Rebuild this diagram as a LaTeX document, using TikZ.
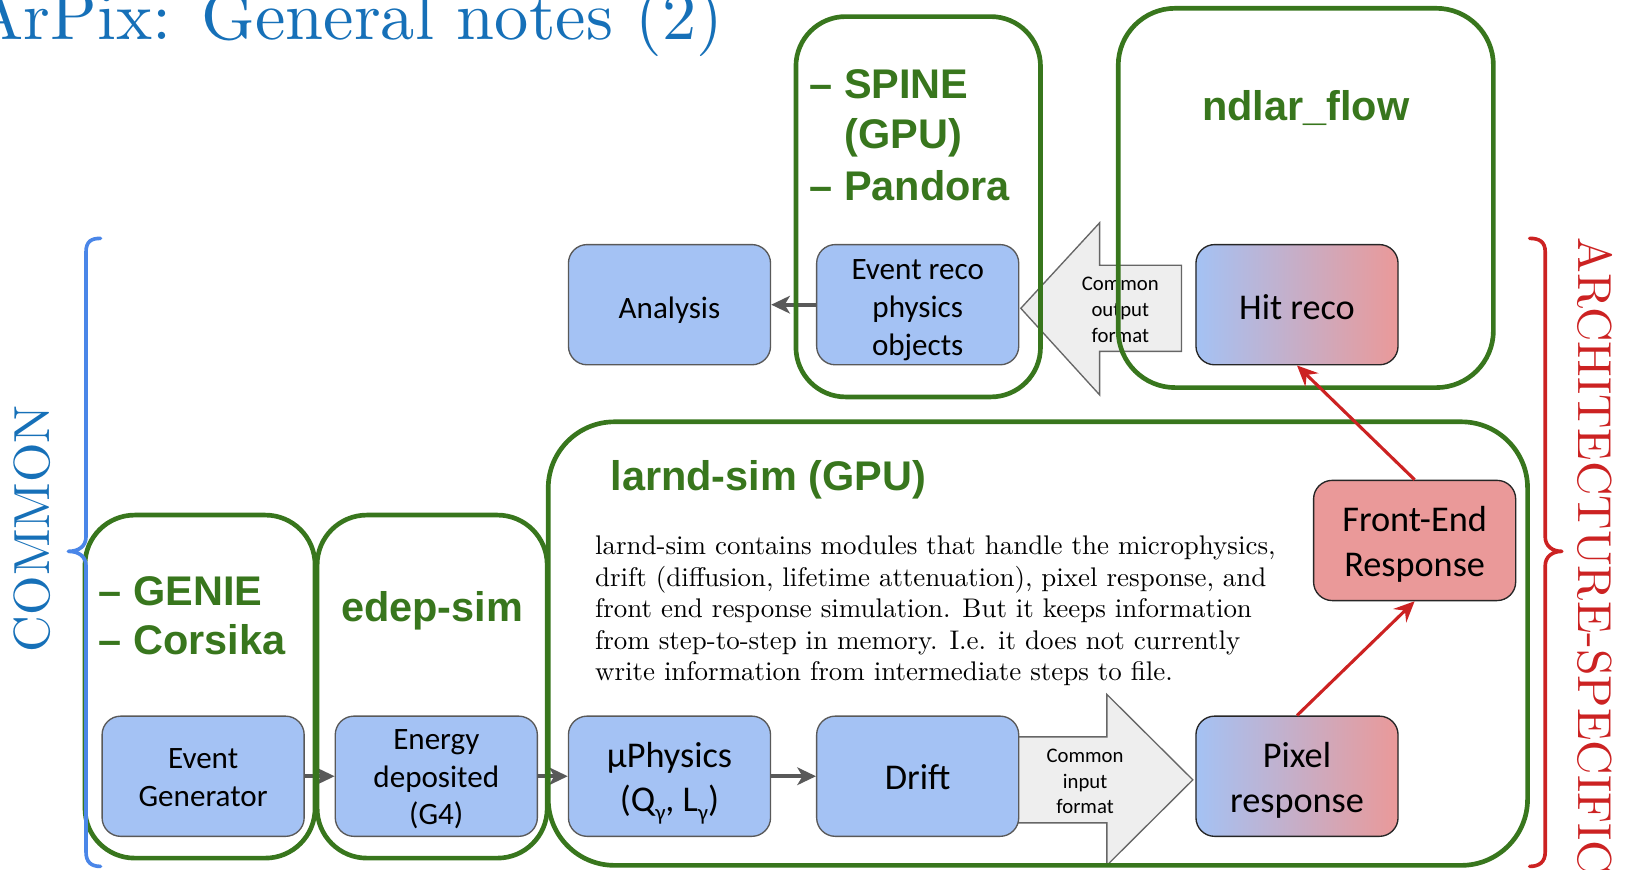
\documentclass[tikz,border=0pt]{standalone}
\usepackage{fontspec}
\newfontfamily\calib{Carlito}
\newfontfamily\arial{Liberation Sans}
\newfontfamily\pal{lmroman10-regular.otf}
\usetikzlibrary{arrows.meta}
\definecolor{gr}{HTML}{38761D}
\definecolor{bb}{HTML}{A4C2F4}
\definecolor{rb}{HTML}{EA9999}
\definecolor{bstroke}{HTML}{595959}
\definecolor{ttl}{RGB}{22,112,184}
\definecolor{brblue}{HTML}{4A86E8}
\definecolor{rd}{RGB}{204,34,34}
\definecolor{ag}{HTML}{EEEEEE}
\definecolor{agd}{HTML}{666666}
\newcommand\fsz[2]{\fontsize{#1}{#2}\selectfont}
\tikzset{
  blk/.style={draw=bstroke, line width=1.3pt, fill=bb, rounded corners=18pt,
    minimum width=195pt, minimum height=116pt, inner sep=0pt},
  btxt/.style={inner sep=0pt, align=center, text=black},
  smf/.style={btxt, font=\calib\fsz{30}{36.5}},
  lgf/.style={btxt, font=\calib\fsz{35}{43.5}},
  gradbox/.style={draw=black!85, left color=bb, right color=rb},
  redbox/.style={draw=black!85, fill=rb},
  grp/.style={draw=gr, line width=4.5pt, rounded corners=#1, inner sep=0pt},
  gtitle/.style={text=gr, font=\arial\bfseries\fsz{40}{48}, inner sep=0pt},
  garrow/.style={draw=bstroke, line width=3.5pt, -{Stealth[length=18pt,width=17pt,inset=5pt]}},
  rarrow/.style={draw=rd, line width=3pt, -{Stealth[length=20pt,width=18pt,inset=7pt]}},
  bigarrow/.style={draw=agd, fill=ag, line width=1.3pt, line join=miter},
  note/.style={font=\calib\fsz{20}{25}, align=center, inner sep=0pt},
  para/.style={font=\pal\fsz{26}{31}, inner sep=0pt, anchor=base west},
  brace/.style={line width=3.5pt, line cap=round, line join=round}
}
\begin{document}
\begin{tikzpicture}[x=1pt,y=-1pt]
\useasboundingbox (0,0) rectangle (1568,839);

% big block arrows
\draw[bigarrow] (975,711) -- (1068,711) -- (1068,670) -- (1151,752.5) -- (1068,835) -- (1068,794) -- (975,794) -- cycle;
\draw[bigarrow] (985,297.5) -- (1061,215) -- (1061,256) -- (1140,256) -- (1140,339) -- (1061,339) -- (1061,381) -- cycle;

% boxes
\node[blk] (ana) at (646,294) {};
\node[blk] (ereco) at (885.5,294) {};
\node[blk, gradbox] (hit) at (1251.5,294) {};
\node[blk] (eg) at (196,749) {};
\node[blk] (ed) at (421,749) {};
\node[blk] (mu) at (646,749) {};
\node[blk] (drift) at (885.5,749) {};
\node[blk, gradbox] (pix) at (1251.5,749) {};
\node[blk, redbox] (fe) at (1365,521.5) {};

% box texts
\node[smf] (anat) at ([yshift=-5pt]ana.center) {Analysis};
\node[smf] (erecot) at ([yshift=-5.5pt]ereco.center) {Event reco\\physics\\objects};
\node[lgf] (hitt) at ([yshift=-2pt]hit.center) {Hit reco};
\node[smf] (egt) at ([yshift=-1pt]eg.center) {Event\\Generator};
\node[smf] (edt2) at ([yshift=-3pt]ed.center) {Energy\\deposited\\(G4)};
\node[btxt, font=\calib\fsz{35}{42}] (mut) at ([yshift=-7pt]mu.center) {µPhysics\\(Q\raisebox{-9pt}{\fsz{22}{22}γ}, L\raisebox{-9pt}{\fsz{22}{22}γ})};
\node[lgf] (driftt) at ([yshift=-1pt]drift.center) {Drift};
\node[lgf] (pixt) at ([yshift=-3.5pt]pix.center) {Pixel\\response};
\node[lgf] (fet) at ([yshift=-4pt]fe.center) {Front-End\\Response};

\node[note] (outtxt) at (1081,299) {Common\\output\\format};
\node[note] (intxt) at (1047,754) {Common\\input\\format};

% gray connectors
\draw[garrow] (eg.east) -- (ed.west);
\draw[garrow] (ed.east) -- (mu.west);
\draw[garrow] (mu.east) -- (drift.west);
\draw[garrow] (ereco.west) -- (ana.east);

% green containers
\node[grp=48, minimum width=222pt, minimum height=331pt] (genie) at (193,662.5) {};
\node[grp=48, minimum width=222pt, minimum height=331pt] (edep) at (417,662.5) {};
\node[grp=64, minimum width=945pt, minimum height=428pt] (larnd) at (1001.5,621) {};
\node[grp=48, minimum width=236pt, minimum height=367pt] (spine) at (886,199.5) {};
\node[grp=55, minimum width=362pt, minimum height=366pt] (ndlar) at (1260,191) {};

% green titles
\node[gtitle, anchor=base west] (sp1) at (781,95) {– SPINE};
\node[gtitle, anchor=base west] (sp2) at (815,143) {(GPU)};
\node[gtitle, anchor=base west] (sp3) at (781,193) {– Pandora};
\node[gtitle, anchor=base] (ndt) at (1260,116) {ndlar\_flow};
\node[gtitle, anchor=base west] (lt) at (589,473) {larnd-sim (GPU)};
\node[gtitle, anchor=base west] (g1) at (95,584) {– GENIE};
\node[gtitle, anchor=base west] (g2) at (95,632) {– Corsika};
\node[gtitle, anchor=base] (edt) at (417,600) {edep-sim};

% paragraph
\node[para] (p1) at (574,535) {larnd-sim contains modules that handle the microphysics,};
\node[para] (p2) at (574,566) {drift (diffusion, lifetime attenuation), pixel response, and};
\node[para] (p3) at (574,596) {front end response simulation. But it keeps information};
\node[para] (p4) at (574,626.5) {from step-to-step in memory. I.e. it does not currently};
\node[para] (p5) at (574,657) {write information from intermediate steps to file.};

% red connectors
\draw[rarrow] (pix.north) -- (fe.south);
\draw[rarrow] (fe.north) -- (hit.south);

% braces
\draw[brace, brblue] (97,230) .. controls (88,230) and (83,233) .. (83,243) -- (83,518)
  .. controls (83,527) and (76,532) .. (66,532) .. controls (76,532) and (83,537) .. (83,546)
  -- (83,822) .. controls (83,832) and (88,836) .. (97,836);
\draw[brace, rd] (1476,230) .. controls (1485,230) and (1491,233) .. (1491,243) -- (1491,518)
  .. controls (1491,527) and (1498,532) .. (1507,532) .. controls (1498,532) and (1491,537) .. (1491,546)
  -- (1491,822) .. controls (1491,832) and (1485,836) .. (1476,836);

% labels
\node[text=ttl, font=\pal\fsz{49}{56}, rotate=90, inner sep=0pt] (common) at (31,510) {COMMON};
\node[text=rd, font=\pal\fsz{46}{54}, rotate=-90, anchor=west, inner sep=0pt] (arch) at (1539,229) {ARCHITECTURE-SPECIFIC};
\node[text=ttl, font=\pal\fsz{66}{78}, anchor=base east, inner sep=0pt] (title) at (698,38) {ArPix: General notes (2)};
\end{tikzpicture}
\end{document}
